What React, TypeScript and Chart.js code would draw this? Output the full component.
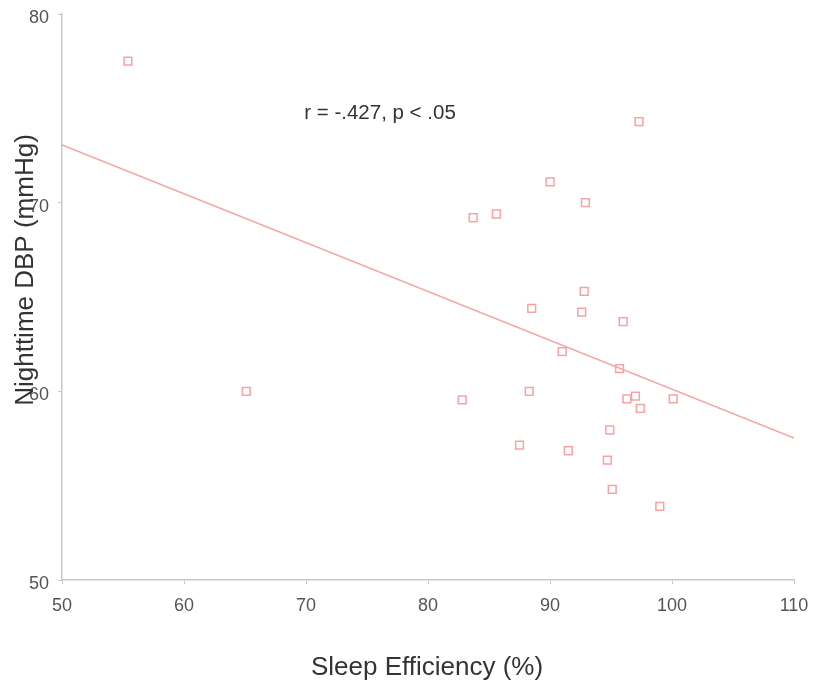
import React, { useEffect, useRef } from "react";
import { Chart, registerables } from "chart.js";

Chart.register(...registerables);

const sleepEfficiency = [55.4, 97.3, 90.0, 92.9, 83.7, 85.6, 92.8, 88.5, 92.6, 96.0, 91.0, 95.7, 65.1, 88.3, 82.8, 97.0, 96.3, 97.4, 100.1, 94.9, 87.5, 91.5, 94.7, 95.1, 99.0];
const nighttimeDBP = [77.5, 74.3, 71.1, 70.0, 69.2, 69.4, 65.3, 64.4, 64.2, 63.7, 62.1, 61.2, 60.0, 60.0, 59.55, 59.75, 59.6, 59.1, 59.6, 57.95, 57.15, 56.85, 56.35, 54.8, 53.9];
const fitX = [50, 110];
const fitY = [73.06, 57.53];
const annotation = "r = -.427, p < .05";
const xTitle = "Sleep Efficiency (%)";
const yTitle = "Nighttime DBP (mmHg)";

const FONT = "'Liberation Sans', Arial, Helvetica, sans-serif";
const PINK = "#f7a3a3";

export default function App() {
  const ref = useRef<HTMLCanvasElement | null>(null);
  useEffect(() => {
    if (!ref.current) return;
    const textPlugin = {
      id: "texts",
      afterDraw(chart: any) {
        const ctx = chart.ctx;
        ctx.save();
        ctx.fillStyle = "#333";
        ctx.font = `20.5px ${FONT}`;
        ctx.textAlign = "center";
        ctx.textBaseline = "middle";
        ctx.fillText(annotation, 380, 113);
        ctx.font = `26px ${FONT}`;
        ctx.fillText(xTitle, 427, 668);
        ctx.translate(26, 270);
        ctx.rotate(-Math.PI / 2);
        ctx.fillText(yTitle, 0, 0);
        ctx.restore();
      },
    };
    const chart = new Chart(ref.current, {
      type: "scatter",
      data: {
        datasets: [
          {
            type: "line",
            data: fitX.map((x, i) => ({ x, y: fitY[i] })),
            borderColor: PINK,
            borderWidth: 1.5,
            pointRadius: 0,
            fill: false,
          } as any,
          {
            data: sleepEfficiency.map((x, i) => ({ x, y: nighttimeDBP[i] })),
            pointStyle: "rect",
            pointRadius: 5.5,
            pointBorderWidth: 1.5,
            borderColor: PINK,
            backgroundColor: "rgba(255,255,255,0)",
          },
        ],
      },
      options: {
        animation: false,
        responsive: true,
        maintainAspectRatio: false,
        layout: { padding: { top: 14, right: 20, left: 0, bottom: 0 } },
        plugins: { legend: { display: false }, tooltip: { enabled: false } },
        scales: {
          x: {
            type: "linear",
            min: 50,
            max: 110,
            ticks: { stepSize: 10, color: "#555", font: { family: FONT, size: 18 }, padding: 11 },
            grid: { drawOnChartArea: false, color: "#c8c8c8", tickLength: 4 },
            border: { color: "#c8c8c8", width: 1.5 },
            afterFit(scale: any) {
              scale.height = 106;
              scale.paddingLeft = 0;
              scale.paddingRight = 0;
            },
          },
          y: {
            min: 50,
            max: 80,
            ticks: { stepSize: 10, color: "#555", font: { family: FONT, size: 18 }, padding: 9, labelOffset: 4 },
            grid: { drawOnChartArea: false, color: "#c8c8c8", tickLength: 4 },
            border: { color: "#c8c8c8", width: 1.5 },
            afterFit(scale: any) {
              scale.width = 62;
              scale.paddingTop = 0;
              scale.paddingBottom = 0;
            },
          },
        },
      },
      plugins: [textPlugin],
    });
    return () => chart.destroy();
  }, []);
  return (
    <div style={{ position: "fixed", left: 0, top: 0, width: 814, height: 686, background: "#fff" }}>
      <canvas ref={ref} />
    </div>
  );
}
